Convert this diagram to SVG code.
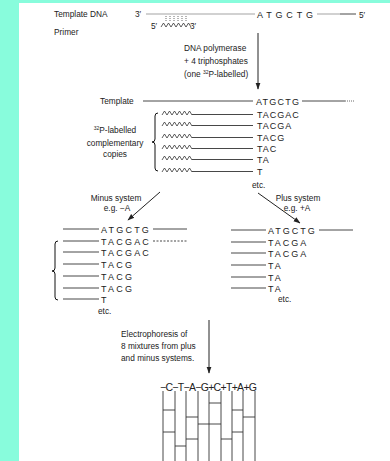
<svg xmlns="http://www.w3.org/2000/svg" width="390" height="461" viewBox="0 0 390 461">
<defs>
<style>
text{font-family:"Liberation Sans",Arial,sans-serif;fill:#222}
.l{font-size:8.3px}
.s{font-size:9px}
.sup{font-size:5px}
.ln{stroke:#333;stroke-width:0.9;fill:none}
.g{stroke:#999;stroke-width:0.9;fill:none}
.z{stroke:#333;stroke-width:0.8;fill:none}
.d{stroke:#444;stroke-width:0.8;stroke-dasharray:1 1;fill:none}
.ds{stroke:#333;stroke-width:0.9;stroke-dasharray:2 1.5;fill:none}
.b{stroke:#111;stroke-width:1;fill:none}
.ar{stroke:#222;stroke-width:1;fill:none;marker-end:url(#ah)}
</style>
<path id="zz" class="z" d="M0 1 l2.5 -4 l2.5 4 l2.5 -4 l2.5 4 l2.5 -4 l2.5 4 l2.5 -4 l2.5 4 l2.5 -4 l2.5 4 l2.5 -4 l2.5 4"/>
<marker id="ah" viewBox="0 0 10 10" refX="9" refY="5" markerUnits="userSpaceOnUse" markerWidth="7" markerHeight="7" orient="auto"><path d="M0 1.5 L10 5 L0 8.5 z" fill="#222"/></marker>
</defs>
<rect width="390" height="461" fill="#88fcdc"/>
<rect x="19" y="3" width="371" height="458" fill="#fff"/>

<g id="connectors">
<line class="ar" x1="258" y1="33" x2="258" y2="89"/>
<line class="ar" x1="160" y1="192" x2="128" y2="220"/>
<line class="ar" x1="258" y1="193" x2="300" y2="223"/>
<line class="ar" x1="209" y1="320" x2="209" y2="373"/>
</g>

<g id="template-dna">
<text class="l" x="54" y="17" font-size="8.5">Template DNA</text>
<text class="l" x="54" y="35">Primer</text>
<text class="l" x="135" y="17">3′</text>
<line class="g" x1="146" y1="14" x2="255" y2="14"/>
<text class="s" x="257" y="17.5" textLength="56" lengthAdjust="spacing">ATGCTG</text>
<line class="g" x1="317" y1="14" x2="340" y2="14"/>
<line class="ln" x1="340" y1="14" x2="356" y2="14"/>
<text class="l" x="359" y="18">5′</text>
</g>

<g id="primer">
<text class="l" x="151" y="29">5′</text>
<use href="#zz" x="161" y="26"/>
<text class="l" x="190" y="29">3′</text>
<path class="d" d="M166 16v6M170 16v6M174 16v6M178 16v6M182 16v6M186 16v6"/>
</g>

<g id="polymerase-label">
<text class="l" x="184" y="51">DNA polymerase</text>
<text class="l" x="184" y="64">+ 4 triphosphates</text>
<text class="l" x="184" y="77">(one <tspan class="sup" dy="-3">32</tspan><tspan dy="3">P-labelled)</tspan></text>
</g>

<g id="template">
<text class="l" x="100" y="104">Template</text>
<line class="ln" x1="143" y1="101" x2="253" y2="101"/>
<text class="s" x="256" y="104.5" textLength="43" lengthAdjust="spacing">ATGCTG</text>
<line class="ln" x1="302" y1="101" x2="345" y2="101"/>
<line class="d" x1="345" y1="101" x2="355" y2="101"/>
</g>

<g id="copies">
<text class="l" x="115" y="133" text-anchor="middle"><tspan class="sup" dy="-3">32</tspan><tspan dy="3">P-labelled</tspan></text>
<text class="l" x="115" y="146" text-anchor="middle">complementary</text>
<text class="l" x="115" y="157" text-anchor="middle">copies</text>
<path class="b" d="M158 113 q-3 0 -3 3 v23 q0 3 -3 3 q3 0 3 3 v23 q0 3 3 3"/>
<use href="#zz" x="162" y="114"/><line class="ln" x1="192" y1="114.5" x2="253" y2="114.5"/>
<use href="#zz" x="162" y="125"/><line class="ln" x1="192" y1="125.5" x2="253" y2="125.5"/>
<use href="#zz" x="162" y="137"/><line class="ln" x1="192" y1="137.5" x2="253" y2="137.5"/>
<use href="#zz" x="162" y="148"/><line class="ln" x1="192" y1="148.5" x2="253" y2="148.5"/>
<use href="#zz" x="162" y="159"/><line class="ln" x1="192" y1="159.5" x2="253" y2="159.5"/>
<use href="#zz" x="162" y="171"/><line class="ln" x1="192" y1="171.5" x2="253" y2="171.5"/>
<text class="s" x="257" y="118" letter-spacing="1">TACGAC</text>
<text class="s" x="257" y="129" letter-spacing="1">TACGA</text>
<text class="s" x="257" y="141" letter-spacing="1">TACG</text>
<text class="s" x="257" y="152" letter-spacing="1">TAC</text>
<text class="s" x="257" y="163" letter-spacing="1">TA</text>
<text class="s" x="257" y="175" letter-spacing="1">T</text>
<text class="l" x="252" y="188">etc.</text>
</g>

<g id="minus-system">
<text class="l" x="116" y="201" text-anchor="middle">Minus system</text>
<text class="l" x="117" y="211" text-anchor="middle">e.g. −A</text>
<path class="b" d="M58 241 q-3 0 -3 3 v24 q0 3 -3 3 q3 0 3 3 v23 q0 3 3 3"/>
<line class="ln" x1="63" y1="229" x2="99" y2="229"/>
<line class="ln" x1="63" y1="241" x2="99" y2="241"/>
<line class="ln" x1="63" y1="252" x2="99" y2="252"/>
<line class="ln" x1="63" y1="264" x2="99" y2="264"/>
<line class="ln" x1="63" y1="276" x2="99" y2="276"/>
<line class="ln" x1="63" y1="288" x2="99" y2="288"/>
<line class="ln" x1="63" y1="299" x2="99" y2="299"/>
<text class="s" x="101" y="232.5" letter-spacing="2.2">ATGCTG</text>
<text class="s" x="101" y="244.5" letter-spacing="2.2">TACGAC</text>
<text class="s" x="101" y="255.5" letter-spacing="2.2">TACGAC</text>
<text class="s" x="101" y="267.5" letter-spacing="2.2">TACG</text>
<text class="s" x="101" y="279.5" letter-spacing="2.2">TACG</text>
<text class="s" x="101" y="291.5" letter-spacing="2.2">TACG</text>
<text class="s" x="101" y="302.5" letter-spacing="2.2">T</text>
<line class="ln" x1="153" y1="229" x2="187" y2="229"/>
<line class="ds" x1="153" y1="241" x2="188" y2="241"/>
<text class="l" x="98" y="314">etc.</text>
</g>

<g id="plus-system">
<text class="l" x="298" y="201" text-anchor="middle">Plus system</text>
<text class="l" x="297" y="211" text-anchor="middle">e.g. +A</text>
<line class="ln" x1="231" y1="230" x2="266" y2="230"/>
<line class="ln" x1="231" y1="242" x2="266" y2="242"/>
<line class="ln" x1="231" y1="253" x2="266" y2="253"/>
<line class="ln" x1="231" y1="265" x2="266" y2="265"/>
<line class="ln" x1="231" y1="277" x2="266" y2="277"/>
<line class="ln" x1="231" y1="288" x2="266" y2="288"/>
<text class="s" x="268" y="233.5" letter-spacing="2">ATGCTG</text>
<text class="s" x="268" y="245.5" letter-spacing="2">TACGA</text>
<text class="s" x="268" y="256.5" letter-spacing="2">TACGA</text>
<text class="s" x="268" y="268.5" letter-spacing="2">TA</text>
<text class="s" x="268" y="280.5" letter-spacing="2">TA</text>
<text class="s" x="268" y="291.5" letter-spacing="2">TA</text>
<line class="ln" x1="319" y1="230" x2="353" y2="230"/>
<text class="l" x="278" y="302">etc.</text>
</g>

<g id="electrophoresis">
<text class="l" x="121" y="337">Electrophoresis of</text>
<text class="l" x="121" y="349">8 mixtures from plus</text>
<text class="l" x="121" y="361">and minus systems.</text>
</g>

<g id="gel">
<text x="160" y="390.5" font-size="10.5" textLength="97" lengthAdjust="spacing">−C−T−A−G+C+T+A+G</text>
<path class="ln" d="M163 391V461M175 391V461M186 391V461M198 391V461M209 391V461M221 391V461M232 391V461M243 391V461M255 391V461"/>
<path class="ln" stroke-width="1.1" d="M163 410H175M163 432H175M175 446H186M186 417H198M186 439H198M198 424H209M209 403H221M209 424H221M221 439H232M232 410H243M232 432H243M243 417H255"/>
</g>
</svg>
